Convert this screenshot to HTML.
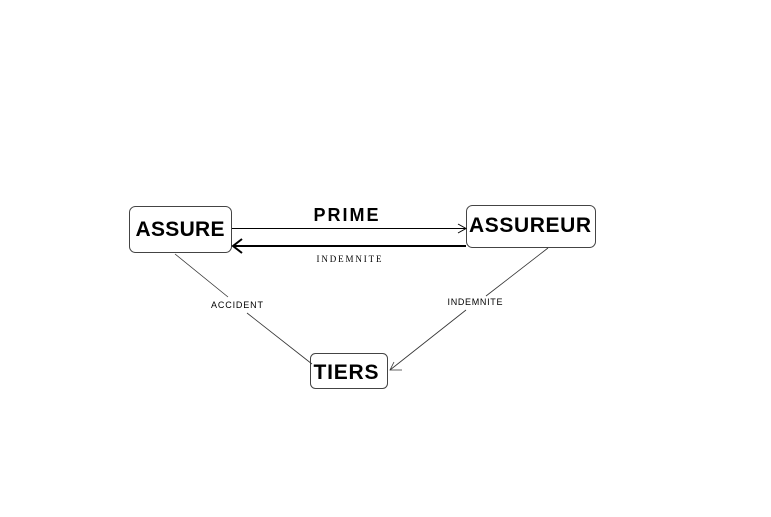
<!DOCTYPE html>
<html><head><style>
body{margin:0;background:#fff;width:771px;height:512px;overflow:hidden}
</style></head><body>
<svg width="771" height="512" xmlns="http://www.w3.org/2000/svg" font-family="Liberation Sans, sans-serif">
<rect x="129.5" y="206.5" width="102" height="46" rx="6" fill="#fff" stroke="#444"/>
<rect x="466.5" y="205.5" width="129" height="42" rx="6" fill="#fff" stroke="#444"/>
<rect x="310.5" y="353.5" width="77" height="35" rx="5" fill="#fff" stroke="#444"/>
<text x="180" y="236" font-size="21" font-weight="bold" text-anchor="middle" textLength="89">ASSURE</text>
<text x="530" y="232" font-size="21" font-weight="bold" text-anchor="middle" textLength="122">ASSUREUR</text>
<text x="346" y="379" font-size="21" font-weight="bold" text-anchor="middle" textLength="65">TIERS</text>
<text x="346" y="221" font-size="18" font-weight="bold" text-anchor="middle" textLength="65">PRIME</text>
<text x="349" y="262" font-size="9" font-family="Liberation Serif, serif" text-anchor="middle" textLength="65">INDEMNITE</text>
<line x1="232" y1="228.5" x2="465" y2="228.5" stroke="#000"/>
<polyline points="458,224 466,228.5 458,233" fill="none" stroke="#000"/>
<line x1="234" y1="246" x2="466" y2="246" stroke="#000" stroke-width="2"/>
<polyline points="242,239 233,246 242,253" fill="none" stroke="#000" stroke-width="2"/>
<line x1="175" y1="254" x2="228" y2="297" stroke="#333" stroke-width="0.8"/>
<line x1="247" y1="313" x2="312" y2="364" stroke="#333" stroke-width="0.8"/>
<text x="237" y="308" font-size="9" text-anchor="middle" textLength="52">ACCIDENT</text>
<line x1="548" y1="248" x2="486" y2="296" stroke="#333" stroke-width="0.8"/>
<line x1="466" y1="310" x2="390" y2="370" stroke="#333" stroke-width="0.8"/>
<polyline points="394,362 390,370 402,370" fill="none" stroke="#333" stroke-width="0.8"/>
<text x="475" y="305" font-size="9" text-anchor="middle" textLength="55">INDEMNITE</text>
</svg>
</body></html>
